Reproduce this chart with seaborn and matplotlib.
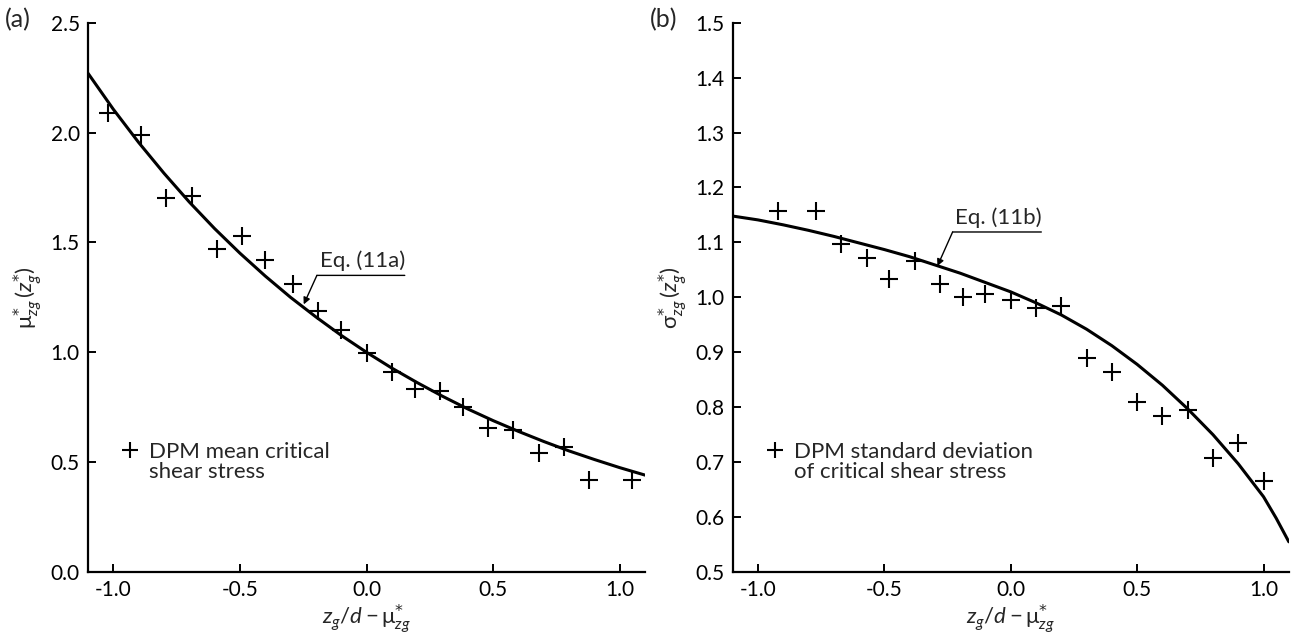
import numpy as np
import pandas as pd
import matplotlib
matplotlib.use("Agg")
import matplotlib.pyplot as plt
from matplotlib.lines import Line2D
import seaborn as sns

# ---------------- data ----------------
# (a) DPM mean critical shear stress
a_x = [-1.02, -0.89, -0.79, -0.69, -0.59, -0.49, -0.40, -0.29, -0.19, -0.10, 0.00,
       0.10, 0.19, 0.29, 0.38, 0.48, 0.58, 0.68, 0.78, 0.88, 1.05]
a_y = [2.09, 1.99, 1.70, 1.71, 1.47, 1.53, 1.42, 1.31, 1.19, 1.10, 0.995,
       0.91, 0.835, 0.825, 0.75, 0.655, 0.645, 0.54, 0.57, 0.42, 0.42]
# Eq. (11a) curve
a_cx = [-1.1, -1.0, -0.9, -0.8, -0.7, -0.6, -0.5, -0.4, -0.3, -0.2, -0.1, 0.0,
        0.1, 0.2, 0.3, 0.4, 0.5, 0.6, 0.7, 0.8, 0.9, 1.0, 1.1]
a_cy = [2.27, 2.106, 1.955, 1.815, 1.684, 1.563, 1.451, 1.347, 1.250, 1.161, 1.077, 1.0,
        0.928, 0.862, 0.800, 0.742, 0.689, 0.640, 0.594, 0.551, 0.512, 0.475, 0.441]

# (b) DPM standard deviation of critical shear stress
b_x = [-0.92, -0.77, -0.67, -0.57, -0.48, -0.38, -0.28, -0.19, -0.10, 0.00,
       0.10, 0.20, 0.30, 0.40, 0.50, 0.60, 0.70, 0.80, 0.90, 1.00]
b_y = [1.158, 1.158, 1.098, 1.071, 1.033, 1.067, 1.025, 1.0, 1.007, 0.995,
       0.98, 0.984, 0.889, 0.864, 0.809, 0.784, 0.795, 0.707, 0.735, 0.665]
# Eq. (11b) curve
b_cx = [-1.1, -1.0, -0.9, -0.8, -0.7, -0.6, -0.5, -0.4, -0.3, -0.2, -0.1, 0.0,
        0.1, 0.2, 0.3, 0.4, 0.5, 0.6, 0.7, 0.8, 0.9, 1.0, 1.05, 1.1]
b_cy = [1.148, 1.141, 1.132, 1.122, 1.111, 1.099, 1.087, 1.074, 1.059, 1.044, 1.027, 1.010,
        0.990, 0.968, 0.942, 0.912, 0.878, 0.840, 0.797, 0.750, 0.697, 0.637, 0.598, 0.555]

x_ticks = [-1.0, -0.5, 0.0, 0.5, 1.0]
a_yticks = [0.0, 0.5, 1.0, 1.5, 2.0, 2.5]
b_yticks = [0.5, 0.6, 0.7, 0.8, 0.9, 1.0, 1.1, 1.2, 1.3, 1.4, 1.5]

a_legend = ["DPM mean critical", "shear stress"]
b_legend = ["DPM standard deviation", "of critical shear stress"]

# ---------------- style ----------------
sns.set_theme(style="ticks")
plt.rcParams["font.family"] = ["Lato", "DejaVu Sans"]
plt.rcParams["mathtext.fontset"] = "custom"
plt.rcParams["mathtext.rm"] = "Lato"
plt.rcParams["mathtext.it"] = "Lato:italic"
plt.rcParams["mathtext.bf"] = "Lato:bold"
plt.rcParams["mathtext.sf"] = "DejaVu Sans"
plt.rcParams["axes.linewidth"] = 1.6
plt.rcParams["xtick.direction"] = "in"
plt.rcParams["ytick.direction"] = "in"
plt.rcParams["xtick.major.width"] = 1.4
plt.rcParams["ytick.major.width"] = 1.4
plt.rcParams["xtick.major.size"] = 5.5
plt.rcParams["ytick.major.size"] = 5.5
plt.rcParams["xtick.color"] = "black"
plt.rcParams["ytick.color"] = "black"
plt.rcParams["axes.edgecolor"] = "black"
FS = 15
FL = 16

fig = plt.figure(figsize=(12.94, 6.43), dpi=100)
ax1 = fig.add_axes([0.068, 0.1104, 0.4305, 0.8543])
ax2 = fig.add_axes([0.5662, 0.1104, 0.4298, 0.8543])

dfa = pd.DataFrame({"x": a_x, "y": a_y})
dfac = pd.DataFrame({"x": a_cx, "y": a_cy})
dfb = pd.DataFrame({"x": b_x, "y": b_y})
dfbc = pd.DataFrame({"x": b_cx, "y": b_cy})

STAR = r"\mathsf{*}"
xlab = r"$z_g/d - \mathrm{\mu}^{" + STAR + r"}_{zg}$"

def setup(ax, yticks, ylim, ylabel):
    ax.set_xlim(-1.1, 1.1)
    ax.set_ylim(*ylim)
    ax.set_xticks(x_ticks)
    ax.set_xticklabels([f"{t:.1f}" for t in x_ticks])
    ax.set_yticks(yticks)
    ax.set_yticklabels([f"{t:.1f}" for t in yticks])
    ax.tick_params(labelsize=FS, pad=6)
    sns.despine(ax=ax)
    ax.set_xlabel(xlab, fontsize=FL, labelpad=2)
    ax.set_ylabel(ylabel, fontsize=FL, labelpad=4)

def add_legend(ax, handle, labels):
    blank = Line2D([], [], linestyle="none", marker=None)
    ax.legend([handle, blank], labels, loc="upper left", bbox_to_anchor=(0.06, 0.237),
              frameon=False, fontsize=FL, handlelength=0.8, handletextpad=0.45,
              borderaxespad=0, labelspacing=0.0, borderpad=0)

# panel (a)
sns.lineplot(data=dfac, x="x", y="y", ax=ax1, color="black", lw=2.2)
sns.scatterplot(data=dfa, x="x", y="y", ax=ax1, marker="+", s=160, color="black",
                linewidth=1.5, zorder=3)
setup(ax1, a_yticks, (0.0, 2.5),
      r"$\mathrm{\mu}^{" + STAR + r"}_{zg}\,(z^{" + STAR + r"}_{g})$")
hA = Line2D([], [], linestyle="none", marker="+", color="black", markersize=11, markeredgewidth=1.5)
add_legend(ax1, hA, a_legend)

# annotation (a)
ax1.annotate("", xy=(-0.248, 1.218), xytext=(-0.196, 1.35),
             arrowprops=dict(arrowstyle="-|>", color="black", lw=1.0,
                             mutation_scale=10, shrinkA=0, shrinkB=0))
ax1.annotate("", xy=(0.151, 1.35), xytext=(-0.196, 1.35),
             arrowprops=dict(arrowstyle="-", color="black", lw=1.0, shrinkA=0, shrinkB=0))
ax1.text(0.151, 1.37, "Eq. (11a)", fontsize=FL, ha="right", va="bottom")

# panel (b)
sns.lineplot(data=dfbc, x="x", y="y", ax=ax2, color="black", lw=2.2)
sns.scatterplot(data=dfb, x="x", y="y", ax=ax2, marker="+", s=160, color="black",
                linewidth=1.5, zorder=3)
setup(ax2, b_yticks, (0.5, 1.5),
      r"$\mathrm{\sigma}^{" + STAR + r"}_{zg}\,(z^{" + STAR + r"}_{g})$")
add_legend(ax2, hA, b_legend)

ax2.annotate("", xy=(-0.29, 1.057), xytext=(-0.23, 1.119),
             arrowprops=dict(arrowstyle="-|>", color="black", lw=1.0,
                             mutation_scale=10, shrinkA=0, shrinkB=0))
ax2.annotate("", xy=(0.121, 1.119), xytext=(-0.23, 1.119),
             arrowprops=dict(arrowstyle="-", color="black", lw=1.0, shrinkA=0, shrinkB=0))
ax2.text(0.121, 1.126, "Eq. (11b)", fontsize=FL, ha="right", va="bottom")

fig.text(0.004, 0.97, "(a)", fontsize=FL + 2, ha="left", va="center")
fig.text(0.502, 0.97, "(b)", fontsize=FL + 2, ha="left", va="center")

fig.savefig("out.png", dpi=100)
